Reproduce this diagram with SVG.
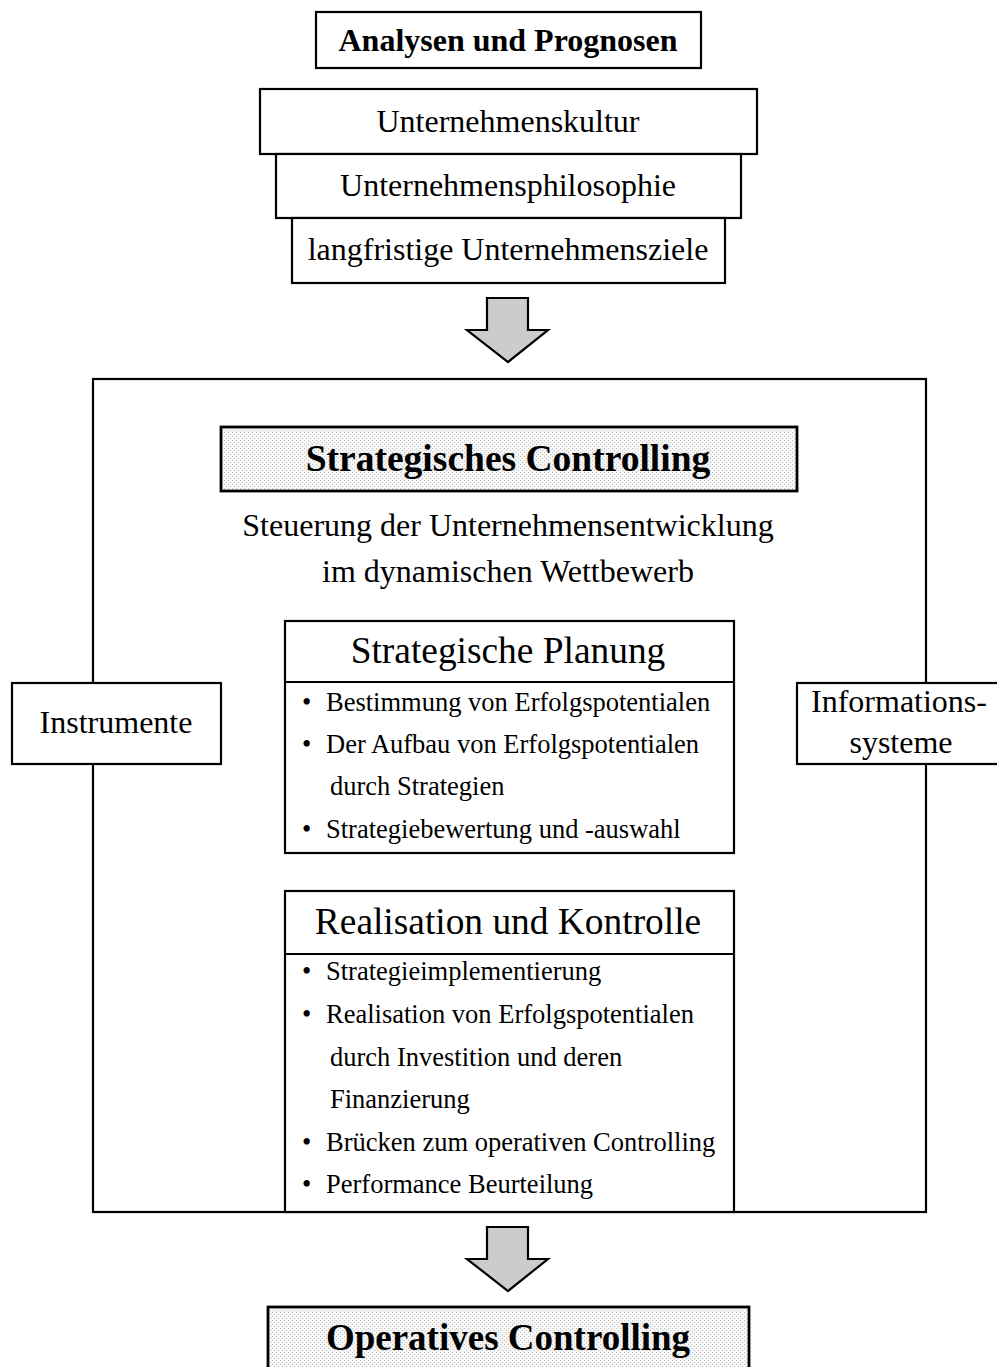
<svg xmlns="http://www.w3.org/2000/svg" width="997" height="1367" viewBox="0 0 997 1367">
<defs>
<style>
.b{fill:#fff;stroke:#000;stroke-width:2.2}
.d{fill:url(#dots);stroke:#000;stroke-width:2.8}
.t{font-family:"Liberation Serif","Times New Roman",serif;fill:#000}
.c{text-anchor:middle}
.bold{font-weight:bold}
.arr{fill:#cccccc;stroke:#000;stroke-width:2.2;stroke-linejoin:miter}
.ln{fill:none;stroke:#000;stroke-width:2.2}
.bl{font-size:26.5px}
</style>
<pattern id="dots" width="4" height="4" patternUnits="userSpaceOnUse">
<rect width="4" height="4" fill="#f6f6f6"/>
<rect width="1" height="1" fill="#c2c2c2"/>
<rect x="2" y="2" width="1" height="1" fill="#c2c2c2"/>
</pattern>
</defs>
<rect width="997" height="1367" fill="#fff"/>

<g id="connectors">
<path class="arr" d="M487,298 H528 V330 H548 L508,362 L467,330 H487 Z"/>
<path class="arr" d="M487,1227 H528 V1259 H548 L508,1291 L467,1259 H487 Z"/>
</g>

<g id="frame">
<rect class="ln" x="93" y="379" width="833" height="833"/>
</g>

<g id="analysen">
<rect class="b" x="316" y="12" width="385" height="56"/>
<text class="t c bold" x="508" y="51" font-size="32">Analysen und Prognosen</text>
</g>

<g id="kultur">
<rect class="b" x="260" y="89" width="497" height="65"/>
<text class="t c" x="508" y="132" font-size="32">Unternehmenskultur</text>
</g>
<g id="philosophie">
<rect class="b" x="276" y="154" width="465" height="64"/>
<text class="t c" x="508" y="196" font-size="32">Unternehmensphilosophie</text>
</g>
<g id="ziele">
<rect class="b" x="292" y="218" width="433" height="65"/>
<text class="t c" x="508" y="260" font-size="32">langfristige Unternehmensziele</text>
</g>

<g id="strategisches">
<rect class="d" x="221" y="427" width="576" height="64"/>
<text class="t c bold" x="508" y="471" font-size="37.5">Strategisches Controlling</text>
</g>

<g id="steuerung">
<text class="t c" x="508" y="536" font-size="32">Steuerung der Unternehmensentwicklung</text>
<text class="t c" x="508" y="582" font-size="32">im dynamischen Wettbewerb</text>
</g>

<g id="planung">
<rect class="b" x="285" y="621" width="449" height="232"/>
<line class="ln" x1="285" y1="682" x2="734" y2="682" stroke-width="3.2"/>
<text class="t c" x="508" y="663" font-size="37.4">Strategische Planung</text>
<text class="t bl">
<tspan x="302" y="711">•</tspan><tspan x="326" y="711">Bestimmung von Erfolgspotentialen</tspan>
<tspan x="302" y="753">•</tspan><tspan x="326" y="753">Der Aufbau von Erfolgspotentialen</tspan>
<tspan x="330" y="795">durch Strategien</tspan>
<tspan x="302" y="838">•</tspan><tspan x="326" y="838">Strategiebewertung und -auswahl</tspan>
</text>
</g>

<g id="instrumente">
<rect class="b" x="12" y="683" width="209" height="81"/>
<text class="t c" x="116" y="733" font-size="32">Instrumente</text>
</g>

<g id="informationssysteme">
<rect class="b" x="797" y="683" width="210" height="81"/>
<text class="t c" x="899" y="712" font-size="32">Informations-</text>
<text class="t c" x="901" y="753" font-size="32">systeme</text>
</g>

<g id="realisation">
<rect class="b" x="285" y="891" width="449" height="321"/>
<line class="ln" x1="285" y1="954" x2="734" y2="954" stroke-width="3.2"/>
<text class="t c" x="508" y="934" font-size="37.4">Realisation und Kontrolle</text>
<text class="t bl">
<tspan x="302" y="980">•</tspan><tspan x="326" y="980">Strategieimplementierung</tspan>
<tspan x="302" y="1023">•</tspan><tspan x="326" y="1023">Realisation von Erfolgspotentialen</tspan>
<tspan x="330" y="1066">durch Investition und deren</tspan>
<tspan x="330" y="1108">Finanzierung</tspan>
<tspan x="302" y="1151">•</tspan><tspan x="326" y="1151">Brücken zum operativen Controlling</tspan>
<tspan x="302" y="1193">•</tspan><tspan x="326" y="1193">Performance Beurteilung</tspan>
</text>
</g>

<g id="operatives">
<rect class="d" x="268" y="1307" width="481" height="80"/>
<text class="t c bold" x="508" y="1350" font-size="37">Operatives Controlling</text>
</g>
</svg>
